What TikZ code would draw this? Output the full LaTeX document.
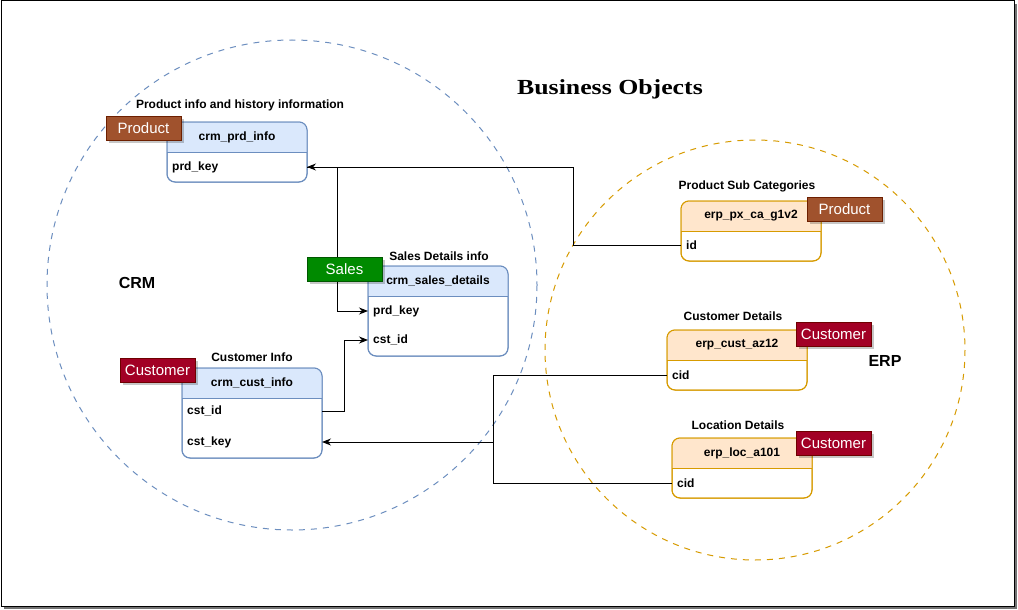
\documentclass[tikz,border=0pt]{standalone}
\usepackage{fontspec}
\setmainfont{Liberation Sans}
\newfontfamily\titlefont[FakeStretch=1.2]{Liberation Serif}
\usetikzlibrary{arrows.meta}
\definecolor{bluestroke}{HTML}{6C8EBF}
\definecolor{bluefill}{HTML}{DAE8FC}
\definecolor{orstroke}{HTML}{D79B00}
\definecolor{orfill}{HTML}{FFE6CC}
\definecolor{prodfill}{HTML}{A0522D}
\definecolor{prodstroke}{HTML}{6D1F00}
\definecolor{salesfill}{HTML}{008A00}
\definecolor{salesstroke}{HTML}{005700}
\definecolor{custfill}{HTML}{A20025}
\definecolor{custstroke}{HTML}{6F0000}
\tikzset{
  tblbox/.style={draw, fill=white, rounded corners=8pt, line width=1pt, minimum width=140pt, outer sep=0pt, inner sep=0pt},
  hdrtext/.style={font=\fontsize{12}{14}\selectfont\bfseries, inner sep=0pt},
  rowtext/.style={font=\fontsize{12}{14}\selectfont\bfseries, anchor=west, inner sep=0pt},
  lbl/.style={font=\fontsize{12}{14}\selectfont\bfseries, inner sep=0pt},
  tag/.style={draw=#1, line width=1pt, text=white, font=\fontsize{15}{17}\selectfont, minimum width=75pt, minimum height=24pt, inner sep=0pt, outer sep=0pt},
  tagshadow/.style={fill=black, opacity=0.22},
  conn/.style={draw=black, line width=1pt},
  arr/.style={conn, -{Stealth[length=9pt,width=7pt]}},
  circ/.style={line width=1pt, dash pattern=on 6pt off 6pt}
}
\newcommand\dbtab[7]{%
  \node[tblbox, draw=#7, minimum height=#4, anchor=north west] (#1) at (#2,#3) {};
  \begin{scope}
    \clip (#1.north west) rectangle ([yshift=-30pt]#1.north east);
    \fill[#6, rounded corners=8pt] (#1.north west) rectangle (#1.south east);
  \end{scope}
  \draw[#7, line width=1pt] ([yshift=-30pt]#1.north west) -- ([yshift=-30pt]#1.north east);
  \draw[#7, line width=1pt, rounded corners=8pt] (#1.north west) rectangle (#1.south east);
  \node[hdrtext] (#1-h) at ([yshift=-15pt]#1.north) {#5};
}
\begin{document}
\begin{tikzpicture}[x=1pt,y=-1pt]
\useasboundingbox (0,0) rectangle (1018,610);
% frame
\fill[black!55] (4,4) rectangle (1017,609);
\draw[fill=white, line width=1pt] (1,1) rectangle (1014,606);
% circles
\draw[circ, bluestroke] (292,285) circle (245);
\draw[circ, orstroke] (755,350) circle (210);
% title
\node[font=\titlefont\fontsize{21.5}{24}\selectfont\bfseries] (title) at (610,89) {Business Objects};
\node[font=\fontsize{16}{18}\selectfont\bfseries] (crm) at (137,283) {CRM};
\node[font=\fontsize{16}{18}\selectfont\bfseries] (erp) at (885,361) {ERP};
% tables
\dbtab{prdinfo}{167}{122}{60}{crm\_prd\_info}{bluefill}{bluestroke}
\node[rowtext] (prdkey) at (172,167) {prd\_key};
\node[lbl] (prdlbl) at (240,105) {Product info and history information};

\dbtab{sales}{368}{266}{90}{crm\_sales\_details}{bluefill}{bluestroke}
\node[rowtext] (sprdkey) at (373,311) {prd\_key};
\node[rowtext] (scstid) at (373,340) {cst\_id};
\node[lbl] (saleslbl) at (439,256) {Sales Details info};

\dbtab{cust}{182}{368}{90}{crm\_cust\_info}{bluefill}{bluestroke}
\node[rowtext] (cstid) at (187,411) {cst\_id};
\node[rowtext] (cstkey) at (187,442) {cst\_key};
\node[lbl] (custlbl) at (252,357) {Customer Info};

\dbtab{pxca}{681}{201}{60}{erp\_px\_ca\_g1v2}{orfill}{orstroke}
\node[rowtext] (pxid) at (686,245) {id};
\node[lbl] (pxlbl) at (747,186) {Product Sub Categories};

\dbtab{az}{667}{330}{60}{erp\_cust\_az12}{orfill}{orstroke}
\node[rowtext] (azcid) at (672,375) {cid};
\node[lbl] (azlbl) at (733,316) {Customer Details};

\dbtab{loc}{672}{438}{60}{erp\_loc\_a101}{orfill}{orstroke}
\node[rowtext] (loccid) at (677,483) {cid};
\node[lbl] (loclbl) at (738,425) {Location Details};

% connectors
\coordinate (bx1) at (573,0);
\coordinate (bx2) at (337,0);
\coordinate (bx3) at (344,0);
\coordinate (bx4) at (493,0);
\draw[arr] (pxca.west |- pxid) -| (bx1 |- prdkey) -- (prdinfo.east |- prdkey);
\draw[arr] (prdinfo.east |- prdkey) -| (bx2 |- sprdkey) -- (sales.west |- sprdkey);
\draw[arr] (cust.east |- cstid) -| (bx3 |- scstid) -- (sales.west |- scstid);
\draw[arr] (az.west |- azcid) -| (bx4 |- cstkey) -- (cust.east |- cstkey);
\draw[conn] (loc.west |- loccid) -| (bx4 |- cstkey);

% tags
\fill[tagshadow] (109,119) rectangle ++(75,24);
\node[tag=prodstroke, fill=prodfill, anchor=north west] (tagprod1) at (106,116) {Product};
\fill[tagshadow] (310,260) rectangle ++(75,24);
\node[tag=salesstroke, fill=salesfill, anchor=north west] (tagsales) at (307,257) {Sales};
\fill[tagshadow] (123,361) rectangle ++(75,24);
\node[tag=custstroke, fill=custfill, anchor=north west] (tagcust1) at (120,358) {Customer};
\fill[tagshadow] (810,200) rectangle ++(75,24);
\node[tag=prodstroke, fill=prodfill, anchor=north west] (tagprod2) at (807,197) {Product};
\fill[tagshadow] (799,325) rectangle ++(75,24);
\node[tag=custstroke, fill=custfill, anchor=north west] (tagcust2) at (796,322) {Customer};
\fill[tagshadow] (799,434) rectangle ++(75,24);
\node[tag=custstroke, fill=custfill, anchor=north west] (tagcust3) at (796,431) {Customer};
\end{tikzpicture}
\end{document}
